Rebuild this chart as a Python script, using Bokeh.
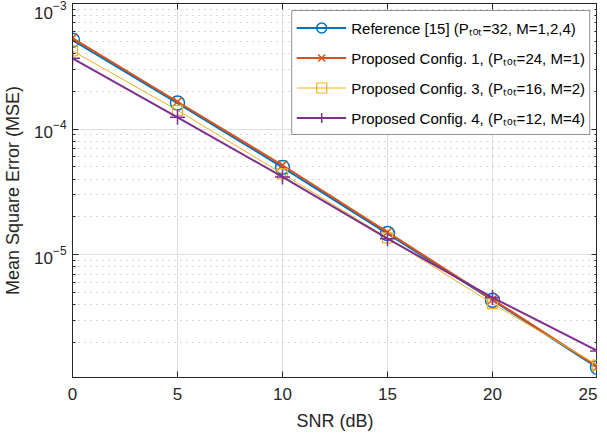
from bokeh.plotting import figure
from bokeh.models import (Range1d, FixedTicker, LogAxis, LinearAxis, LogTickFormatter,
                          Legend, LegendItem)
from bokeh.embed import file_html
from bokeh.resources import INLINE

# ---- data ----
snr = [0, 5, 10, 15, 20, 25]
mse_ref = [5.1e-4, 1.61e-4, 4.95e-5, 1.47e-5, 4.33e-6, 1.26e-6]
mse_c1 = [5.3e-4, 1.65e-4, 5.15e-5, 1.51e-5, 4.4e-6, 1.28e-6]
mse_c3 = [4.2e-4, 1.41e-4, 4.4e-5, 1.36e-5, 4.07e-6, 1.32e-6]
mse_c4 = [3.66e-4, 1.24e-4, 4.16e-5, 1.34e-5, 4.55e-6, 1.71e-6]

labels = [
    "Reference [15] (P\u209c\u2092\u209c=32, M=1,2,4)",
    "Proposed Config. 1, (P\u209c\u2092\u209c=24, M=1)",
    "Proposed Config. 3, (P\u209c\u2092\u209c=16, M=2)",
    "Proposed Config. 4, (P\u209c\u2092\u209c=12, M=4)",
]
x_title = "SNR (dB)"
y_title = "Mean Square Error (MSE)"
x_ticks = [0, 5, 10, 15, 20, 25]
y_major = [1e-6, 1e-5, 1e-4, 1e-3]
y_minor = [m * 10.0 ** e for e in (-6, -5, -4) for m in range(2, 10)]

colors = ["#0072BD", "#D95319", "#EDB120", "#7E2F8E"]
markers = ["circle", "x", "square", "cross"]
msizes = [14, 13, 10, 15]
lwidths = [2, 2, 1, 2]
series = [mse_ref, mse_c1, mse_c3, mse_c4]

FONT = "Liberation Sans"
AX = "#262626"

p = figure(width=597, height=433, y_axis_type="log",
           x_range=Range1d(0, 25), y_range=Range1d(1.05e-6, 1e-3),
           output_backend="svg", toolbar_location=None,
           min_border_left=62, min_border_right=0, min_border_top=3,
           min_border_bottom=0)
p.background_fill_color = "white"
p.outline_line_color = AX
p.outline_line_width = 1

xt = FixedTicker(ticks=x_ticks, minor_ticks=[])
yt = FixedTicker(ticks=y_major, minor_ticks=y_minor)

# grids
p.xgrid.ticker = xt
p.ygrid.ticker = yt
for g in (p.xgrid, p.ygrid):
    g.grid_line_color = "#dedede"
    g.grid_line_width = 1
p.ygrid.minor_grid_line_color = "#b0b0b0"
p.ygrid.minor_grid_line_dash = "1 5"
p.ygrid.minor_grid_line_width = 1

# main axes
for ax in (p.xaxis[0], p.yaxis[0]):
    ax.axis_line_color = AX
    ax.major_tick_line_color = AX
    ax.minor_tick_line_color = AX
    ax.major_tick_in = 6
    ax.major_tick_out = 0
    ax.minor_tick_in = 3
    ax.minor_tick_out = 0
    ax.major_label_text_font = FONT
    ax.major_label_text_font_size = "17px"
    ax.major_label_text_color = AX
    ax.axis_label_text_font = FONT
    ax.axis_label_text_font_size = "18px"
    ax.axis_label_text_font_style = "normal"
    ax.axis_label_text_color = AX
p.xaxis[0].ticker = xt
p.yaxis[0].ticker = yt
p.yaxis[0].formatter = LogTickFormatter()
p.xaxis[0].axis_label = x_title
p.yaxis[0].axis_label = y_title
p.xaxis[0].major_label_standoff = 10
p.yaxis[0].major_label_standoff = 6
p.xaxis[0].axis_label_standoff = 8
p.yaxis[0].axis_label_standoff = 8

# box axes (top and right), labels hidden
top = LinearAxis(ticker=xt)
right = LogAxis(ticker=yt)
for ax in (top, right):
    ax.axis_line_color = AX
    ax.major_tick_line_color = AX
    ax.minor_tick_line_color = AX
    ax.major_tick_in = 6
    ax.major_tick_out = 0
    ax.minor_tick_in = 3
    ax.minor_tick_out = 0
    ax.major_label_text_font_size = "1px"
    ax.major_label_text_color = None
    ax.major_label_standoff = 0
    ax.axis_label_standoff = 0
p.add_layout(top, "above")
p.add_layout(right, "right")

items = []
for ys, c, m, s, lw, lab in zip(series, colors, markers, msizes, lwidths, labels):
    r1 = p.line(snr, ys, line_color=c, line_width=lw)
    r2 = p.scatter(snr, ys, marker=m, size=s, line_color=c, fill_color=None,
                   line_width=1.5 if lw > 1 else 1.2)
    items.append(LegendItem(label=lab, renderers=[r1, r2]))

legend = Legend(items=items, location="top_right")
legend.label_text_font = FONT
legend.label_text_font_size = "15px"
legend.label_text_color = "black"
legend.border_line_color = AX
legend.border_line_width = 1
legend.background_fill_color = "white"
legend.background_fill_alpha = 1
legend.glyph_width = 50
legend.glyph_height = 25
legend.label_height = 25
legend.spacing = 5
legend.padding = 4
legend.margin = 7
legend.label_standoff = 5
p.add_layout(legend, "center")

open("out.html", "w").write(file_html(p, INLINE))
